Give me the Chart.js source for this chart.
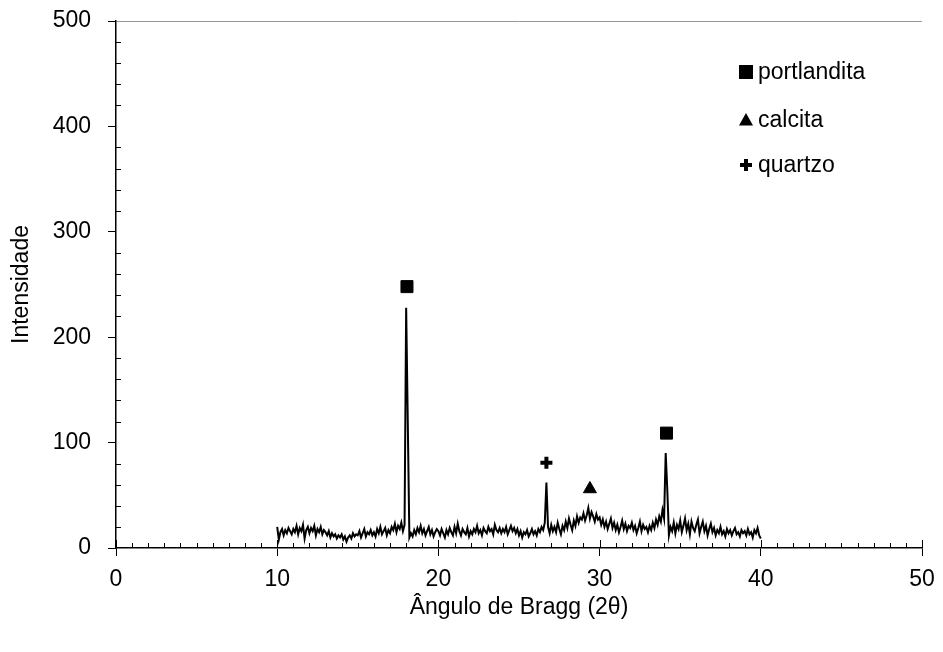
<!DOCTYPE html>
<html>
<head>
<meta charset="utf-8">
<title>DRX</title>
<script src="https://cdn.jsdelivr.net/npm/chart.js"></script>
<style>
body { margin: 0; background: #fff; }
</style>
</head>
<body>
<canvas id="myChart" width="943" height="652"></canvas>
<script>
// difratograma: 10.0 a 40.0 graus, passo 0.1
const angleStart = 10
const angleStep = 0.1
const intensity = [
	20, 8, 15, 18, 12, 17, 14, 19, 16, 13,
	18, 15, 21, 13, 19, 16, 22, 9, 17, 20,
	14, 19, 16, 21, 12, 18, 15, 20, 13, 17,
	15, 12, 16, 10, 14, 11, 13, 9, 12, 10,
	13, 8, 11, 6, 10, 12, 9, 14, 11, 13,
	12, 16, 10, 14, 18, 11, 15, 13, 17, 12,
	15, 11, 18, 14, 20, 13, 16, 19, 12, 17,
	14, 20, 17, 23, 15, 21, 18, 24, 16, 22,
	228, 120, 10, 14, 11, 17, 13, 19, 15, 21,
	14, 18, 12, 16, 20, 13, 17, 11, 15, 18,
	16, 12, 18, 14, 10, 17, 13, 19, 15, 12,
	20, 14, 23, 16, 12, 18, 15, 13, 19, 11,
	16, 13, 18, 15, 21, 14, 17, 12, 19, 16,
	14, 20, 16, 18, 13, 22, 17, 15, 19, 14,
	18, 15, 20, 13, 17, 21, 16, 19, 14, 18,
	12, 16, 10, 15, 13, 17, 11, 14, 18, 13,
	16, 12, 18, 15, 20, 17, 24, 62, 20, 14,
	22, 16, 20, 15, 24, 18, 13, 21, 17, 25,
	19, 28, 22, 17, 26, 21, 30, 24, 29, 27,
	33, 26, 31, 38, 28, 34, 30, 25, 32, 27,
	29, 22, 27, 20, 25, 18, 23, 28, 19, 24,
	17, 22, 15, 20, 26, 18, 23, 16, 21, 19,
	24, 17, 21, 14, 19, 25, 16, 22, 18, 20,
	15, 21, 17, 24, 19, 27, 22, 30, 25, 36,
	28, 90, 55, 12, 20, 16, 24, 14, 22, 18,
	26, 15, 21, 28, 17, 23, 13, 25, 19, 16,
	22, 27, 14, 20, 25, 16, 21, 12, 18, 23,
	15, 19, 12, 17, 14, 20, 13, 16, 11, 18,
	14, 17, 12, 16, 19, 13, 15, 11, 17, 14,
	16, 12, 18, 13, 15, 10, 17, 14, 19, 12,
	9
]

// identificacao dos picos
const portlanditaX = [18.05, 34.15]
const portlanditaY = [248, 109]
const calcitaX = [29.4]
const calcitaY = [56]
const quartzoX = [26.7]
const quartzoY = [81]

const xTicks = [0, 10, 20, 30, 40, 50]
const yTicks = [0, 100, 200, 300, 400, 500]

const FONT = '"Liberation Sans", Arial, sans-serif'
const FS = 23

function toPoints(xs, ys) {
	return xs.map((x, i) => ({ x: x, y: ys[i] }))
}

const profile = intensity.map((v, i) => ({ x: +(angleStart + i * angleStep).toFixed(1), y: v }))

// tracinhos menores para dentro do grafico
const minorTicks = {
	id: 'minorTicks',
	afterDraw(chart) {
		const ctx = chart.ctx
		const sx = chart.scales.x
		const sy = chart.scales.y
		const area = chart.chartArea
		ctx.save()
		ctx.strokeStyle = '#000'
		ctx.lineWidth = 1
		ctx.beginPath()
		for (let v = xTicks[0]; v <= xTicks[xTicks.length - 1]; v++) {
			const px = Math.round(sx.getPixelForValue(v)) + 0.5
			const len = v % 10 === 0 ? 8 : 5
			ctx.moveTo(px, area.bottom)
			ctx.lineTo(px, area.bottom - len)
		}
		for (let v = 20; v < 500; v += 20) {
			if (v % 100 === 0) continue
			const py = Math.round(sy.getPixelForValue(v)) + 0.5
			ctx.moveTo(area.left, py)
			ctx.lineTo(area.left + 5, py)
		}
		ctx.stroke()
		ctx.restore()
	}
}

// legenda dentro da area do grafico
const markerLegend = {
	id: 'markerLegend',
	afterDraw(chart, args, opts) {
		const ctx = chart.ctx
		ctx.save()
		ctx.font = FS + 'px ' + FONT
		ctx.textBaseline = 'middle'
		ctx.fillStyle = '#000'
		let row = 0
		chart.data.datasets.forEach(ds => {
			if (ds.showLine) return
			const mx = opts.x
			const my = opts.rows[row]
			ctx.beginPath()
			if (ds.pointStyle === 'rect') {
				ctx.rect(mx - 7, my - 7, 14, 14)
			} else if (ds.pointStyle === 'triangle') {
				ctx.moveTo(mx, my - 7)
				ctx.lineTo(mx + 7, my + 5.5)
				ctx.lineTo(mx - 7, my + 5.5)
				ctx.closePath()
			} else {
				ctx.rect(mx - 6, my - 2, 12, 4)
				ctx.rect(mx - 2, my - 6, 4, 12)
			}
			ctx.fill()
			ctx.fillText(ds.label, mx + opts.textGap, my + 1)
			row++
		})
		ctx.restore()
	}
}

const ctx = document.getElementById('myChart')
const chart = new Chart(ctx, {
	type: 'scatter',
	data: {
		datasets: [{
			label: 'DRX',
			data: profile,
			showLine: true,
			borderColor: '#000',
			borderWidth: 2,
			pointRadius: 0,
			tension: 0
		}, {
			label: 'portlandita',
			data: toPoints(portlanditaX, portlanditaY),
			pointStyle: 'rect',
			pointRadius: 8.5,
			backgroundColor: '#000',
			borderColor: '#000',
			borderWidth: 1
		}, {
			label: 'calcita',
			data: toPoints(calcitaX, calcitaY),
			pointStyle: 'triangle',
			pointRadius: 7.5,
			backgroundColor: '#000',
			borderColor: '#000',
			borderWidth: 1
		}, {
			label: 'quartzo',
			data: toPoints(quartzoX, quartzoY),
			pointStyle: 'cross',
			pointRadius: 6,
			backgroundColor: '#000',
			borderColor: '#000',
			borderWidth: 4
		}]
	},
	options: {
		responsive: false,
		animation: false,
		layout: { padding: { top: 21, right: 21, left: 0, bottom: 0 } },
		plugins: {
			legend: { display: false },
			tooltip: { enabled: false },
			markerLegend: { x: 746, rows: [72, 120, 165], textGap: 12 }
		},
		scales: {
			x: {
				type: 'linear',
				min: 0,
				max: 50,
				afterFit(scale) {
					scale.height = 104
					scale.paddingLeft = 0
					scale.paddingRight = 0
				},
				afterBuildTicks(scale) { scale.ticks = xTicks.map(v => ({ value: v })) },
				ticks: { color: '#000', font: { size: FS, family: FONT }, padding: 10, maxRotation: 0 },
				grid: { drawOnChartArea: false, tickLength: 8, tickColor: '#000', lineWidth: 1 },
				border: { color: '#000', width: 1.5 },
				title: {
					display: true,
					text: 'Ângulo de Bragg (2θ)',
					color: '#000',
					font: { size: FS, family: FONT },
					padding: { top: 0, bottom: 31 }
				}
			},
			y: {
				min: 0,
				max: 500,
				afterFit(scale) {
					scale.width = 116
					scale.paddingTop = 0
					scale.paddingBottom = 0
				},
				afterBuildTicks(scale) { scale.ticks = yTicks.map(v => ({ value: v })) },
				ticks: { color: '#000', font: { size: FS, family: FONT }, padding: 17 },
				grid: {
					color: c => (c.tick && c.tick.value === 500 ? '#999' : 'rgba(0,0,0,0)'),
					tickColor: '#000',
					tickLength: 8,
					lineWidth: 1
				},
				border: { color: '#000', width: 1.5 },
				title: {
					display: true,
					text: 'Intensidade',
					color: '#000',
					font: { size: FS, family: FONT },
					padding: { top: 8, bottom: 0 }
				}
			}
		}
	},
	plugins: [minorTicks, markerLegend]
})
</script>
</body>
</html>
